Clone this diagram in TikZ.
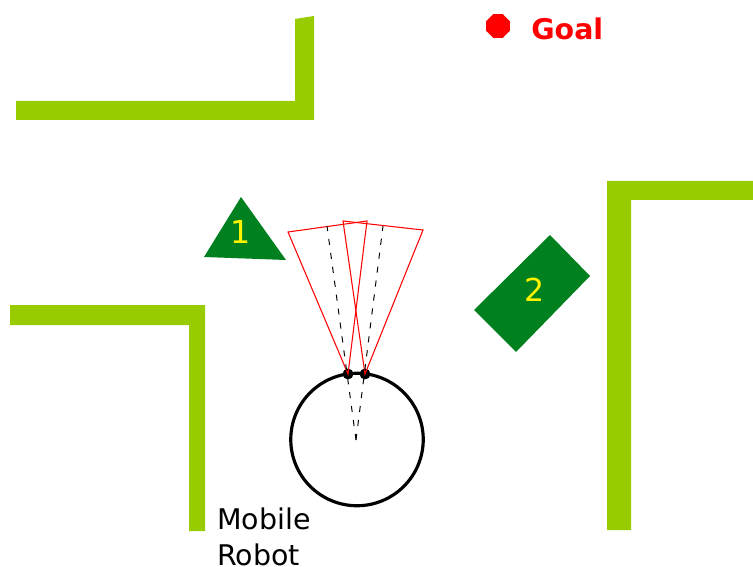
\documentclass[tikz,border=0pt]{standalone}
\usepackage{fontspec}
\setmainfont{DejaVu Sans}
\usepackage{xcolor}
\usetikzlibrary{shapes.geometric,calc}
\definecolor{wallgreen}{RGB}{153,204,0}
\definecolor{obstgreen}{RGB}{0,128,30}

\begin{document}
\begin{tikzpicture}[
  x=0.02cm, y=-0.02cm,
  wall/.style={fill=wallgreen, draw=none},
  obst/.style={fill=obstgreen, draw=none},
  num/.style={text=yellow, font=\fontsize{18}{20}\selectfont, inner sep=0pt},
  cone/.style={draw=red, line width=0.6pt, line join=miter},
  ray/.style={draw=black, line width=0.55pt, dash pattern=on 3.5pt off 4.5pt},
  sensor/.style={circle, fill=black, inner sep=0pt, minimum size=6.2pt}
]
  \useasboundingbox (0,0) rectangle (753,567);

  % --- Walls ---
  \fill[wall] (16,101) -- (295,101) -- (295,19) -- (314,16) -- (314,120) -- (16,120) -- cycle;
  \fill[wall] (10,305) -- (205,305) -- (205,531) -- (189,531) -- (189,325) -- (10,325) -- cycle;
  \fill[wall] (607,181) -- (753,181) -- (753,200) -- (631,200) -- (631,530) -- (607,530) -- cycle;

  % --- Goal ---
  \node[regular polygon, regular polygon sides=8, fill=red, inner sep=0pt,
        minimum size=0.51cm] (goal) at (498,26) {};
  \node[text=red, font=\fontsize{16.2}{18}\selectfont\bfseries, anchor=west, inner sep=0pt]
    (goaltxt) at (531,29) {Goal};

  % --- Obstacles ---
  \fill[obst] (241,197) -- (286,260) -- (204,257) -- cycle;
  \node[num] (obst1) at (241,232) {1};
  \fill[obst] (550,235) -- (590,276) -- (516,352) -- (474,310) -- cycle;
  \node[num] (obst2) at (535,290) {2};

  % --- Robot ---
  \coordinate (mid) at (356,440);
  \node[circle, draw=black, line width=1.8pt, minimum size=2.65cm, inner sep=0pt] (robot) at (357,439.5) {};
  \node[sensor] (sensL) at (348,374) {};
  \node[sensor] (sensR) at (365,374) {};

  % Sensor cones
  \coordinate (coneLa) at (288,232);
  \coordinate (coneLb) at (367,221);
  \coordinate (coneRa) at (343,221);
  \coordinate (coneRb) at (423,230);
  \draw[cone] (sensL.center) -- (coneLa) -- (coneLb) -- cycle;
  \draw[cone] (sensR.center) -- (coneRa) -- (coneRb) -- cycle;

  % Sensor axes
  \coordinate (endL) at (327,226);
  \coordinate (endR) at (383,226);
  \draw[ray] (mid) -- (endL);
  \draw[ray] (mid) -- (endR);

  % --- Label ---
  \node[anchor=north west, align=left, inner sep=0pt, font=\fontsize{16.2}{20.4}\selectfont]
    (robotlbl) at (217,508) {Mobile\\Robot};
\end{tikzpicture}
\end{document}
